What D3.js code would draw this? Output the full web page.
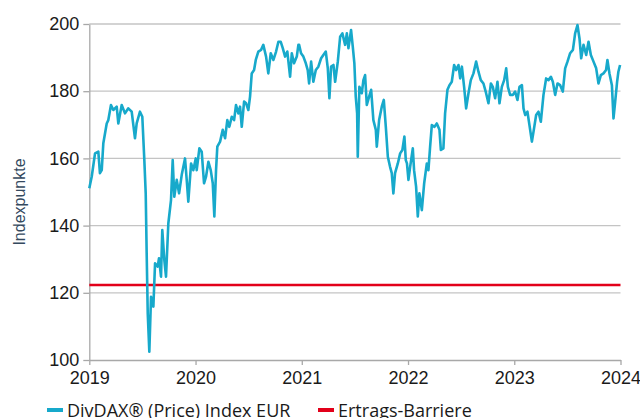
<!DOCTYPE html>
<html>
<head>
<meta charset="utf-8">
<script src="https://cdn.jsdelivr.net/npm/d3@7"></script>
<style>
  body { margin: 0; background: #fff; }
  svg { display: block; }
</style>
</head>
<body>
<svg id="chart" width="640" height="418"></svg>
<script>
"use strict";

// time as decimal year, index points
const index_t = [
  2.000, 2.023, 2.054, 2.085, 2.100, 2.117, 2.132, 2.164, 2.179, 2.204, 2.226, 2.258, 2.273, 2.305, 2.336, 2.367, 2.399, 2.430, 2.446, 2.477,
  2.499, 2.518, 2.531, 2.540, 2.550, 2.565, 2.581, 2.603, 2.619, 2.644, 2.656, 2.675, 2.687, 2.706, 2.722, 2.744, 2.769, 2.785, 2.800, 2.823,
  2.845, 2.870, 2.901, 2.917, 2.932, 2.958, 2.979, 3.002, 3.011, 3.036, 3.058, 3.080, 3.099, 3.121, 3.143, 3.162, 3.177, 3.193, 3.205, 3.231,
  3.256, 3.278, 3.299, 3.318, 3.341, 3.363, 3.381, 3.403, 3.419, 3.435, 3.457, 3.476, 3.497, 3.513, 3.529, 3.551, 3.567, 3.591, 3.617, 3.638,
  3.664, 3.685, 3.708, 3.733, 3.758, 3.780, 3.802, 3.821, 3.843, 3.864, 3.890, 3.906, 3.927, 3.953, 3.968, 3.975, 3.993, 4.015, 4.038, 4.056,
  4.069, 4.088, 4.109, 4.132, 4.156, 4.182, 4.203, 4.226, 4.245, 4.260, 4.276, 4.298, 4.314, 4.339, 4.361, 4.382, 4.408, 4.424, 4.439, 4.464,
  4.480, 4.495, 4.508, 4.521, 4.527, 4.542, 4.565, 4.580, 4.596, 4.612, 4.634, 4.653, 4.674, 4.697, 4.706, 4.728, 4.753, 4.772, 4.791, 4.810,
  4.831, 4.847, 4.862, 4.878, 4.904, 4.926, 4.947, 4.966, 4.979, 4.990, 5.004, 5.020, 5.045, 5.057, 5.076, 5.092, 5.107, 5.130, 5.152, 5.177,
  5.192, 5.208, 5.224, 5.249, 5.271, 5.296, 5.309, 5.333, 5.349, 5.371, 5.390, 5.412, 5.434, 5.453, 5.475, 5.491, 5.507, 5.528, 5.547, 5.569,
  5.591, 5.616, 5.641, 5.663, 5.685, 5.710, 5.735, 5.757, 5.780, 5.798, 5.820, 5.842, 5.861, 5.883, 5.905, 5.924, 5.940, 5.961, 5.987, 6.008,
  6.030, 6.049, 6.072, 6.087, 6.103, 6.124, 6.143, 6.166, 6.181, 6.206, 6.228, 6.250, 6.275, 6.300, 6.322, 6.345, 6.363, 6.385, 6.407, 6.432,
  6.457, 6.479, 6.501, 6.526, 6.552, 6.573, 6.595, 6.614, 6.630, 6.652, 6.677, 6.699, 6.721, 6.746, 6.771, 6.793, 6.815, 6.840, 6.864, 6.877,
  6.896, 6.919, 6.934, 6.950, 6.968, 6.980, 6.996
].map(d => 2017 + d);

const index_v = [
  151.1, 154.6, 161.5, 162.0, 155.6, 156.5, 164.5, 170.4, 171.4, 175.9, 174.4, 175.4, 170.4, 175.9, 173.4, 174.9, 173.9, 166.0, 170.4, 173.9,
  172.4, 159.5, 149.6, 131.8, 113.9, 102.5, 118.8, 115.9, 128.8, 127.8, 130.3, 124.8, 138.7, 129.8, 124.8, 140.7, 147.6, 159.5, 148.6, 153.6,
  149.6, 155.1, 160.0, 153.6, 147.1, 158.5, 156.5, 160.0, 156.5, 163.0, 162.0, 152.6, 154.6, 159.0, 156.5, 152.6, 142.7, 156.5, 163.5, 165.0,
  168.5, 166.0, 171.4, 169.4, 172.4, 171.4, 175.9, 173.4, 175.4, 169.4, 176.9, 176.4, 174.4, 178.4, 185.3, 186.3, 189.3, 191.8, 192.3, 193.8,
  190.3, 185.3, 191.3, 189.3, 191.8, 194.7, 194.7, 192.8, 190.3, 191.8, 184.3, 191.3, 188.3, 190.3, 193.8, 193.8, 191.3, 190.3, 188.3, 186.3,
  182.3, 188.8, 182.8, 186.3, 187.3, 189.8, 190.8, 191.8, 186.8, 177.9, 187.3, 187.8, 182.8, 188.8, 196.2, 197.2, 193.8, 197.2, 192.8, 198.2,
  193.3, 188.3, 178.4, 173.4, 160.5, 181.3, 179.4, 183.3, 184.8, 175.9, 178.4, 180.4, 171.4, 168.5, 163.5, 171.4, 175.4, 177.4, 169.4, 160.5,
  157.5, 155.6, 149.6, 155.6, 158.5, 161.5, 162.5, 166.5, 159.5, 158.5, 153.6, 157.5, 163.0, 156.5, 151.6, 142.7, 149.6, 144.6, 152.6, 158.5,
  156.5, 163.5, 169.9, 169.4, 170.4, 168.5, 162.5, 163.0, 173.4, 180.4, 181.8, 182.8, 187.8, 186.3, 187.8, 183.8, 187.3, 181.3, 174.9, 179.4,
  183.3, 185.3, 188.8, 185.8, 183.3, 182.3, 179.4, 176.4, 182.3, 181.3, 177.9, 182.8, 176.4, 181.3, 183.3, 186.8, 181.3, 178.9, 178.9, 179.9,
  177.4, 181.3, 181.8, 174.9, 172.9, 173.9, 169.9, 165.0, 167.9, 172.9, 173.9, 170.9, 178.9, 183.8, 183.3, 184.3, 182.8, 178.9, 182.3, 181.8,
  179.9, 186.8, 188.8, 191.3, 192.3, 197.2, 199.7, 195.7, 189.8, 193.8, 190.8, 194.7, 190.8, 188.8, 186.8, 182.3, 184.8, 185.3, 186.3, 189.3,
  185.3, 181.8, 171.9, 176.9, 182.8, 185.8, 187.8
];

const barrier_value = 122.3;
const x_ticks = [2019, 2020, 2021, 2022, 2023, 2024];
const y_ticks = [100, 120, 140, 160, 180, 200];
const legend_labels = ["DivDAX\u00ae (Price) Index EUR", "Ertrags-Barriere"];

const chart_left = 89.3, chart_right = 620.5, chart_top = 24, chart_bottom = 360;
const col_index = "#17a9cb", col_barrier = "#e2001a", col_grid = "#c4c4c4";

let chart_svg = d3.select("#chart");

let x_scale = d3.scaleLinear().domain([2019, 2024]).range([chart_left, chart_right]);
let y_scale = d3.scaleLinear().domain([100, 200]).range([chart_bottom, chart_top]);

// grid
chart_svg.append("g")
  .selectAll("line")
  .data(y_ticks.slice(1))
  .enter()
  .append("line")
  .attr("x1", chart_left).attr("x2", chart_right)
  .attr("y1", d => y_scale(d)).attr("y2", d => y_scale(d))
  .attr("stroke", col_grid).attr("stroke-width", 1.3);

// axes
let y_axis = chart_svg.append("g")
  .attr("transform", "translate(" + chart_left + ",0)")
  .call(d3.axisLeft(y_scale).tickValues(y_ticks).tickSize(6).tickPadding(4).tickSizeOuter(0));

let x_axis = chart_svg.append("g")
  .attr("transform", "translate(0," + chart_bottom + ")")
  .call(d3.axisBottom(x_scale).tickValues(x_ticks).tickFormat(d3.format("d")).tickSize(5).tickPadding(6).tickSizeOuter(0));

[y_axis, x_axis].forEach(ax => {
  ax.selectAll("path, line").attr("stroke", "#a8a8a8").attr("stroke-width", 1.3);
  ax.selectAll("text")
    .attr("fill", "#1a1a1a")
    .attr("font-family", "Liberation Sans, Arial, sans-serif")
    .attr("font-size", 18);
});

// y label
chart_svg.append("text")
  .attr("transform", "translate(25,202) rotate(-90)")
  .attr("text-anchor", "middle")
  .attr("fill", "#34495e")
  .attr("font-family", "Liberation Sans, Arial, sans-serif")
  .attr("font-size", 16)
  .text("Indexpunkte");

// barrier
chart_svg.append("line")
  .attr("x1", chart_left).attr("x2", chart_right)
  .attr("y1", y_scale(barrier_value)).attr("y2", y_scale(barrier_value))
  .attr("stroke", col_barrier).attr("stroke-width", 2.5);

// index line
let index_data = index_t.map((t, i) => ({ t: t, v: index_v[i] }));
chart_svg.append("path")
  .datum(index_data)
  .attr("fill", "none")
  .attr("stroke", col_index)
  .attr("stroke-width", 2.6)
  .attr("stroke-linejoin", "round")
  .attr("d", d3.line().x(d => x_scale(d.t)).y(d => y_scale(d.v)));

// legend
const legend_x = [47, 318];
legend_labels.forEach((lab, i) => {
  chart_svg.append("rect")
    .attr("x", legend_x[i]).attr("y", 408)
    .attr("width", 16).attr("height", 4)
    .attr("fill", i == 0 ? col_index : col_barrier);
  chart_svg.append("text")
    .attr("x", legend_x[i] + 20).attr("y", 417)
    .attr("fill", "#1a1a1a")
    .attr("font-family", "Open Sans, sans-serif")
    .attr("font-size", 18)
    .text(lab);
});
</script>
</body>
</html>
